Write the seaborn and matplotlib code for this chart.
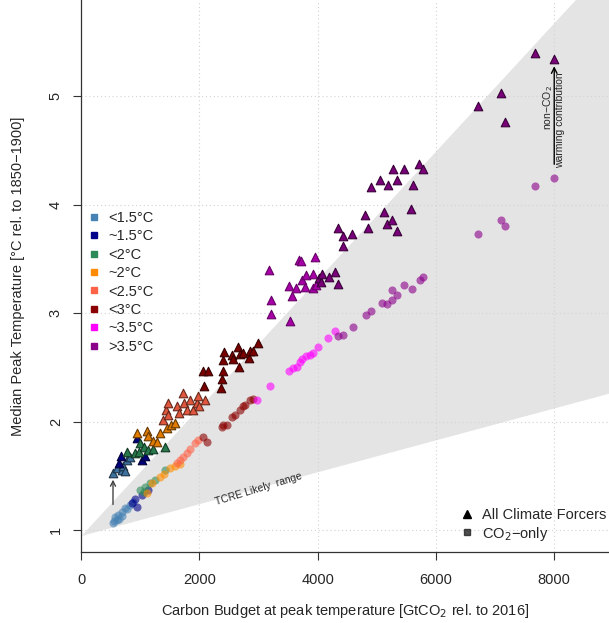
import numpy as np
import pandas as pd
import matplotlib
matplotlib.use('Agg')
import matplotlib.pyplot as plt
from matplotlib.lines import Line2D
import seaborn as sns

# peak-warming classes and their colours
classes = ['<1.5°C', '~1.5°C', '<2°C', '~2°C', '<2.5°C', '<3°C', '~3.5°C', '>3.5°C']
class_colours = ['#4682B4', '#00008B', '#2E8B57', '#FF8C00', '#FF6347', '#8B0000', '#FF00FF', '#8B008B']

# TCRE likely range wedge (start temperature, degC per 1000 GtCO2)
tcre_start = 0.95
tcre_low = 0.147
tcre_high = 0.591

# All climate forcers: (budget GtCO2, median peak temperature)
tri_lt15 = [(546, 1.53), (614, 1.57), (688, 1.55), (716, 1.59), (744, 1.54), (772, 1.645), (828, 1.67)]
tri_ap15 = [(648, 1.62), (671, 1.68), (941, 1.845), (1026, 1.645), (1082, 1.68)]
tri_lt2 = [(772, 1.72), (913, 1.71), (986, 1.72), (997, 1.80), (1065, 1.77), (1138, 1.74), (1223, 1.75),
           (1420, 1.77)]
tri_ap2 = [(952, 1.89), (1109, 1.915), (1138, 1.87), (1212, 1.82), (1279, 1.81), (1336, 1.89), (1460, 1.94),
           (1516, 1.97), (1589, 1.99)]
tri_lt25 = [(1381, 2.01), (1437, 2.11), (1476, 2.06), (1476, 2.17), (1618, 2.14), (1662, 2.075), (1719, 2.26),
            (1741, 2.17), (1787, 2.11), (1843, 2.20), (1899, 2.11), (1956, 2.17), (1983, 2.235), (2000, 2.14),
            (2096, 2.20)]
tri_lt3 = [(2068, 2.47), (2079, 2.33), (2153, 2.47), (2361, 2.31), (2378, 2.39), (2406, 2.47), (2406, 2.57),
           (2418, 2.64), (2547, 2.61), (2575, 2.58), (2660, 2.69), (2677, 2.50), (2688, 2.62), (2745, 2.63),
           (2846, 2.59), (2857, 2.65), (2914, 2.65), (2987, 2.72)]
tri_ap35 = [(3178, 3.40), (3207, 2.99), (3212, 3.12), (3511, 3.25), (3533, 2.93), (3567, 3.16), (3640, 3.23),
            (3680, 3.49), (3714, 3.48), (3731, 3.30), (3792, 3.24), (3804, 3.35), (3917, 3.36), (3917, 3.23),
            (3956, 3.52), (3973, 3.26)]
tri_gt35 = [(4018, 3.32), (4052, 3.29), (4069, 3.36), (4187, 3.33), (4294, 3.375), (4351, 3.27), (4339, 3.78),
            (4424, 3.71), (4435, 3.62), (4587, 3.73), (4807, 3.90), (4846, 3.78), (4903, 4.16), (5055, 4.23),
            (5117, 3.93), (5178, 3.82), (5196, 4.18), (5252, 3.86), (5269, 4.33), (5342, 4.23), (5342, 3.76),
            (5466, 4.33), (5574, 3.96), (5618, 4.18), (5720, 4.37), (5777, 4.33), (6717, 4.91), (7106, 5.03),
            (7174, 4.76), (7675, 5.40), (7997, 5.34)]

# CO2-only runs
circ_lt15 = [(546, 1.067), (560, 1.08), (575, 1.12), (603, 1.09), (631, 1.14), (650, 1.10), (688, 1.17),
             (700, 1.13), (744, 1.20), (780, 1.19), (828, 1.23), (884, 1.26)]
circ_ap15 = [(860, 1.25), (913, 1.29), (941, 1.215), (1026, 1.32), (1138, 1.37)]
circ_lt2 = [(997, 1.37), (1060, 1.35), (1082, 1.40), (1167, 1.43), (1251, 1.46), (1420, 1.55)]
circ_ap2 = [(1110, 1.34), (1200, 1.43), (1336, 1.49), (1400, 1.52), (1505, 1.57), (1589, 1.59), (1674, 1.61)]
circ_lt25 = [(1620, 1.62), (1674, 1.645), (1730, 1.675), (1787, 1.71), (1843, 1.75), (1927, 1.80), (1983, 1.83)]
circ_lt3 = [(2068, 1.86), (2125, 1.81), (2378, 1.95), (2395, 1.97), (2463, 1.97), (2547, 2.04), (2600, 2.06),
            (2688, 2.11), (2733, 2.14), (2773, 2.15), (2857, 2.20), (2914, 2.21)]
circ_ap35 = [(2981, 2.20), (3195, 2.33), (3522, 2.47), (3580, 2.49), (3646, 2.50), (3700, 2.55), (3731, 2.58),
             (3804, 2.60), (3872, 2.61), (3928, 2.63), (4012, 2.69), (4181, 2.77), (4294, 2.83)]
circ_gt35 = [(4351, 2.79), (4424, 2.80), (4593, 2.87), (4818, 2.98), (4897, 3.02), (5083, 3.09), (5168, 3.08),
             (5252, 3.21), (5252, 3.12), (5337, 3.17), (5461, 3.26), (5590, 3.22), (5731, 3.30), (5777, 3.33),
             (6706, 3.725), (7101, 3.86), (7174, 3.80), (7675, 4.17), (7997, 4.24)]

tri_groups = [tri_lt15, tri_ap15, tri_lt2, tri_ap2, tri_lt25, tri_lt3, tri_ap35, tri_gt35]
circ_groups = [circ_lt15, circ_ap15, circ_lt2, circ_ap2, circ_lt25, circ_lt3, circ_ap35, circ_gt35]


def to_frame(groups):
    rows = []
    for cls, pts in zip(classes, groups):
        for b, t in pts:
            rows.append((cls, b, t))
    return pd.DataFrame(rows, columns=['cls', 'budget', 'temp'])


def darker(col, f=0.5):
    r, g, b = matplotlib.colors.to_rgb(col)
    return (r * f, g * f, b * f)


tri = to_frame(tri_groups)
circ = to_frame(circ_groups)

sns.set_theme(style='white')
plt.rcParams['font.family'] = ['Liberation Sans', 'DejaVu Sans']

fig = plt.figure(figsize=(6.09, 6.23), dpi=100)
ax = fig.add_axes([81 / 609, 70.7 / 623, 528 / 609, 552.3 / 623])
ax.set_xlim(0, 8926)
ax.set_ylim(0.795, 5.885)

# TCRE wedge
xw = np.array([0, 8926])
ax.fill_between(xw, tcre_start + tcre_low * xw / 1000, tcre_start + tcre_high * xw / 1000,
                color='#E4E4E4', lw=0, zorder=0)

ax.set_xticks([0, 2000, 4000, 6000, 8000])
ax.set_yticks([1, 2, 3, 4, 5])
ax.grid(True, color='#D3D3D3', lw=0.8, ls=(0, (1, 2.5)), zorder=0.5)
ax.set_axisbelow(True)

# CO2-only circles
for cls, col in zip(classes, class_colours):
    sub = circ[circ.cls == cls]
    sns.scatterplot(data=sub, x='budget', y='temp', ax=ax, color=col, marker='o', s=34,
                    alpha=0.6, linewidth=0, legend=False, zorder=2)

# all-forcer triangles
for cls, col in zip(classes, class_colours):
    sub = tri[tri.cls == cls]
    fill = darker(col, 0.65) if cls == '~3.5°C' else darker(col, 0.88)
    sns.scatterplot(data=sub, x='budget', y='temp', ax=ax, color=fill, marker='^', s=38,
                    edgecolor=darker(col, 0.4), linewidth=0.8, legend=False, zorder=3)

# arrows and annotations
ax.annotate('', xy=(8000, 5.30), xytext=(8000, 4.345),
            arrowprops=dict(arrowstyle='->', color='black', lw=1.0, mutation_scale=10))
ax.text(7900, 4.89, 'non\u2212CO$_2$', rotation=90, ha='center', va='center', fontsize=7.5)
ax.text(8098, 4.78, 'warming contribution', rotation=90, ha='center', va='center', fontsize=7.5)
ax.annotate('', xy=(541, 1.49), xytext=(541, 1.21),
            arrowprops=dict(arrowstyle='->', color='#444444', lw=1.0, mutation_scale=9))
ax.text(3001, 1.382, 'TCRE Likely  range', rotation=17, ha='center', va='center', fontsize=7.5,
        rotation_mode='anchor')

ax.set_xlabel('Carbon Budget at peak temperature [GtCO$_2$ rel. to 2016]', fontsize=10.5, labelpad=11)
ax.set_ylabel('Median Peak Temperature [°C rel. to 1850\u22121900]', fontsize=10.5, labelpad=17)

for side in ['top', 'right']:
    ax.spines[side].set_visible(False)
for side in ['left', 'bottom']:
    ax.spines[side].set_color('#333333')
    ax.spines[side].set_linewidth(0.9)
ax.tick_params(axis='both', length=6, width=0.8, color='#333333', labelsize=10.5, pad=7,
               left=True, bottom=True)
ax.tick_params(axis='x', pad=9)
plt.setp(ax.get_yticklabels(), rotation=90, va='center')

# class legend
cls_handles = [Line2D([], [], marker='s', ls='', color=c, markersize=5) for c in class_colours]
leg1 = ax.legend(cls_handles, classes, loc='upper left', bbox_to_anchor=(-0.003, 0.631), frameon=False,
                 fontsize=10.5, handlelength=1.0, handletextpad=0.5, labelspacing=0.3, borderaxespad=0.1)
ax.add_artist(leg1)

# marker-type legend
type_handles = [Line2D([], [], marker='^', ls='', color='black', markersize=6),
                Line2D([], [], marker='s', ls='', color='#222222', markersize=4.5, alpha=0.8)]
ax.legend(type_handles, ['All Climate Forcers', 'CO$_2$\u2212only'], loc='lower left',
          bbox_to_anchor=(0.707, 0.007), frameon=False, fontsize=10.5, handlelength=1.0,
          handletextpad=0.5, labelspacing=0.15, borderaxespad=0.0)

fig.savefig('out.png', dpi=100)
